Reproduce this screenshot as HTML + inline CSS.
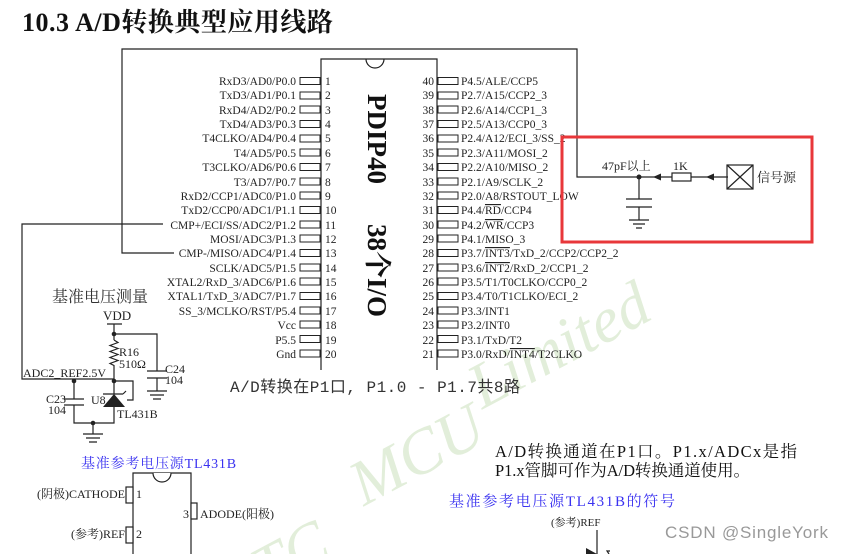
<!DOCTYPE html>
<html><head><meta charset="utf-8"><style>
html,body{margin:0;padding:0;background:#fff;overflow:hidden;width:843px;height:554px;}
svg{display:block;font-family:"Liberation Serif","Noto Serif CJK SC",serif;}
</style></head><body>
<svg width="843" height="554" viewBox="0 0 843 554" xmlns="http://www.w3.org/2000/svg">
<!-- watermark -->
<g fill="#e2eeda" font-style="italic" font-size="64" transform="rotate(-28 420 420)">
<text x="170" y="500">STC</text><text x="330" y="470">MCU</text><text x="480" y="440">Limited</text>
</g>
<text x="22" y="31" font-size="26" font-weight="bold" fill="#111" letter-spacing="0.5">10.3  A/D转换典型应用线路</text>
<g stroke="#222" stroke-width="1.2" fill="none">
<polyline points="174,253 122,253 122,49 577,49 577,177 728,177"/>
<polyline points="163,224 22,224 22,379 114,379"/>
<path d="M321,370 V59 H437 V370"/>
<path d="M366,59 A9,9 0 0 0 384,59"/>
</g>
<g font-size="11.5" fill="#222" text-anchor="end">
<text x="296" y="85">RxD3/AD0/P0.0</text>
<text x="296" y="99">TxD3/AD1/P0.1</text>
<text x="296" y="114">RxD4/AD2/P0.2</text>
<text x="296" y="128">TxD4/AD3/P0.3</text>
<text x="296" y="142">T4CLKO/AD4/P0.4</text>
<text x="296" y="157">T4/AD5/P0.5</text>
<text x="296" y="171">T3CLKO/AD6/P0.6</text>
<text x="296" y="186">T3/AD7/P0.7</text>
<text x="296" y="200">RxD2/CCP1/ADC0/P1.0</text>
<text x="296" y="214">TxD2/CCP0/ADC1/P1.1</text>
<text x="296" y="229">CMP+/ECI/SS/ADC2/P1.2</text>
<text x="296" y="243">MOSI/ADC3/P1.3</text>
<text x="296" y="257">CMP-/MISO/ADC4/P1.4</text>
<text x="296" y="272">SCLK/ADC5/P1.5</text>
<text x="296" y="286">XTAL2/RxD_3/ADC6/P1.6</text>
<text x="296" y="300">XTAL1/TxD_3/ADC7/P1.7</text>
<text x="296" y="315">SS_3/MCLKO/RST/P5.4</text>
<text x="296" y="329">Vcc</text>
<text x="296" y="344">P5.5</text>
<text x="296" y="358">Gnd</text>
</g>
<g font-size="11.5" fill="#222">
<text x="325" y="85">1</text><text x="325" y="99">2</text><text x="325" y="114">3</text><text x="325" y="128">4</text><text x="325" y="142">5</text><text x="325" y="157">6</text><text x="325" y="171">7</text><text x="325" y="186">8</text><text x="325" y="200">9</text><text x="325" y="214">10</text><text x="325" y="229">11</text><text x="325" y="243">12</text><text x="325" y="257">13</text><text x="325" y="272">14</text><text x="325" y="286">15</text><text x="325" y="300">16</text><text x="325" y="315">17</text><text x="325" y="329">18</text><text x="325" y="344">19</text><text x="325" y="358">20</text>
<g text-anchor="end">
<text x="434" y="85">40</text><text x="434" y="99">39</text><text x="434" y="114">38</text><text x="434" y="128">37</text><text x="434" y="142">36</text><text x="434" y="157">35</text><text x="434" y="171">34</text><text x="434" y="186">33</text><text x="434" y="200">32</text><text x="434" y="214">31</text><text x="434" y="229">30</text><text x="434" y="243">29</text><text x="434" y="257">28</text><text x="434" y="272">27</text><text x="434" y="286">26</text><text x="434" y="300">25</text><text x="434" y="315">24</text><text x="434" y="329">23</text><text x="434" y="344">22</text><text x="434" y="358">21</text>
</g>
<text x="461" y="85">P4.5/ALE/CCP5</text>
<text x="461" y="99">P2.7/A15/CCP2_3</text>
<text x="461" y="114">P2.6/A14/CCP1_3</text>
<text x="461" y="128">P2.5/A13/CCP0_3</text>
<text x="461" y="142">P2.4/A12/ECI_3/SS_2</text>
<text x="461" y="157">P2.3/A11/MOSI_2</text>
<text x="461" y="171">P2.2/A10/MISO_2</text>
<text x="461" y="186">P2.1/A9/SCLK_2</text>
<text x="461" y="200">P2.0/A8/RSTOUT_LOW</text>
<text x="461" y="214">P4.4/<tspan text-decoration="overline">RD</tspan>/CCP4</text>
<text x="461" y="229">P4.2/<tspan text-decoration="overline">WR</tspan>/CCP3</text>
<text x="461" y="243">P4.1/MISO_3</text>
<text x="461" y="257">P3.7/<tspan text-decoration="overline">INT3</tspan>/TxD_2/CCP2/CCP2_2</text>
<text x="461" y="272">P3.6/<tspan text-decoration="overline">INT2</tspan>/RxD_2/CCP1_2</text>
<text x="461" y="286">P3.5/T1/T0CLKO/CCP0_2</text>
<text x="461" y="300">P3.4/T0/T1CLKO/ECI_2</text>
<text x="461" y="315">P3.3/INT1</text>
<text x="461" y="329">P3.2/INT0</text>
<text x="461" y="344">P3.1/TxD/T2</text>
<text x="461" y="358">P3.0/RxD/<tspan text-decoration="overline">INT4</tspan>/T2CLKO</text>
</g>
<g stroke="#222" stroke-width="1" fill="#fff">
<rect x="300" y="77.5" width="20" height="7"/><rect x="300" y="92" width="20" height="7"/><rect x="300" y="106" width="20" height="7"/><rect x="300" y="120.5" width="20" height="7"/><rect x="300" y="135" width="20" height="7"/><rect x="300" y="149" width="20" height="7"/><rect x="300" y="163.5" width="20" height="7"/><rect x="300" y="178" width="20" height="7"/><rect x="300" y="192" width="20" height="7"/><rect x="300" y="206.5" width="20" height="7"/><rect x="300" y="221" width="20" height="7"/><rect x="300" y="235" width="20" height="7"/><rect x="300" y="249.5" width="20" height="7"/><rect x="300" y="264" width="20" height="7"/><rect x="300" y="278" width="20" height="7"/><rect x="300" y="292.5" width="20" height="7"/><rect x="300" y="307" width="20" height="7"/><rect x="300" y="321" width="20" height="7"/><rect x="300" y="335.5" width="20" height="7"/><rect x="300" y="350" width="20" height="7"/>
<rect x="438" y="77.5" width="20" height="7"/><rect x="438" y="92" width="20" height="7"/><rect x="438" y="106" width="20" height="7"/><rect x="438" y="120.5" width="20" height="7"/><rect x="438" y="135" width="20" height="7"/><rect x="438" y="149" width="20" height="7"/><rect x="438" y="163.5" width="20" height="7"/><rect x="438" y="178" width="20" height="7"/><rect x="438" y="192" width="20" height="7"/><rect x="438" y="206.5" width="20" height="7"/><rect x="438" y="221" width="20" height="7"/><rect x="438" y="235" width="20" height="7"/><rect x="438" y="249.5" width="20" height="7"/><rect x="438" y="264" width="20" height="7"/><rect x="438" y="278" width="20" height="7"/><rect x="438" y="292.5" width="20" height="7"/><rect x="438" y="307" width="20" height="7"/><rect x="438" y="321" width="20" height="7"/><rect x="438" y="335.5" width="20" height="7"/><rect x="438" y="350" width="20" height="7"/>
</g>
<text transform="translate(368,94) rotate(90)" font-size="27" font-weight="bold" fill="#111">PDIP40</text>
<text transform="translate(368,224) rotate(90)" font-size="27" font-weight="bold" fill="#111">38个I/O</text>
<rect x="562" y="137" width="250" height="105" fill="none" stroke="#e8373a" stroke-width="3"/>
<g stroke="#222" stroke-width="1.2" fill="none">
<rect x="672" y="173" width="19" height="8" fill="#fff"/>
<rect x="727" y="165" width="26" height="24"/>
<path d="M727,165 L753,189 M753,165 L727,189"/>
<path d="M639,177 V199 M626,199 H652 M626,207 H652 M639,207 V220 M629,220 H649 M633,224 H645 M636,228 H642"/>
</g>
<circle cx="639" cy="177" r="2.5" fill="#222"/>
<path d="M653,177 L661,173.5 L661,180.5 Z M706,177 L714,173.5 L714,180.5 Z" fill="#222"/>
<text x="602" y="170" font-size="12" fill="#222">47pF以上</text>
<text x="673" y="170" font-size="12" fill="#222">1K</text>
<text x="757" y="182" font-size="13" fill="#222">信号源</text>
<text x="52" y="302" font-size="16" fill="#333">基准电压测量</text>
<text x="103" y="320" font-size="13" fill="#222">VDD</text>
<g stroke="#222" stroke-width="1.2" fill="none">
<path d="M107,324 H122 M114,324 V340"/>
<path d="M114,334 H157 V371 M147,371 H167 M147,378 H167 M157,378 V391 M147,391 H167 M150,395 H164 M153,399 H161"/>
<path d="M114,340 l4,2.5 -8,3 8,3 -8,3 8,3 -8,3 8,3 -8,3 4,2 V394"/>
<path d="M114,381 H133 V400 H127"/>
<path d="M74,381 V399 M64,399 H84 M64,405 H84 M74,405 V423 H114 V407"/>
<path d="M93,423 V434 M83,434 H103 M86,438 H100 M89,442 H97"/>
<path d="M103,394 H123 M123,394 l3,-3"/>
</g>
<path d="M114,394 L103,407 L125,407 Z" fill="#222"/>
<circle cx="114" cy="334" r="2.3" fill="#222"/><circle cx="114" cy="381" r="2.3" fill="#222"/><circle cx="74" cy="381" r="2.3" fill="#222"/><circle cx="93" cy="423" r="2.3" fill="#222"/>
<g font-size="12" fill="#222">
<text x="119" y="356">R16</text><text x="119" y="368">510Ω</text>
<text x="165" y="373">C24</text><text x="165" y="384">104</text>
<text x="23" y="377">ADC2_REF2.5V</text>
<text x="46" y="403">C23</text><text x="48" y="414">104</text>
<text x="91" y="404">U8</text><text x="117" y="418">TL431B</text>
</g>
<text x="230" y="392" font-size="16" fill="#333" font-family="'Liberation Mono','Noto Sans CJK SC',monospace" textLength="290">A/D转换在P1口, P1.0 - P1.7共8路</text>
<text x="81" y="468" font-size="14" fill="#3a32f0" letter-spacing="0.8">基准参考电压源TL431B</text>
<g stroke="#222" stroke-width="1.2" fill="#fff">
<path d="M133,556 V473 H191 V556"/>
<path d="M153,473 A9,9 0 0 0 171,473"/>
<rect x="126" y="487" width="7" height="16"/><rect x="126" y="527" width="7" height="16"/><rect x="191" y="503" width="6" height="16"/>
</g>
<g font-size="12" fill="#222">
<text x="125" y="498" text-anchor="end">(阴极)CATHODE</text>
<text x="125" y="538" text-anchor="end">(参考)REF</text>
<text x="136" y="498">1</text><text x="136" y="538">2</text><text x="183" y="518">3</text>
<text x="200" y="518">ADODE(阳极)</text>
</g>
<text x="495" y="457" font-size="16.5" fill="#111" textLength="302">A/D转换通道在P1口。P1.x/ADCx是指</text>
<text x="495" y="476" font-size="16.5" fill="#111" textLength="255">P1.x管脚可作为A/D转换通道使用。</text>
<text x="449" y="506" font-size="15" fill="#3a32f0" textLength="226">基准参考电压源TL431B的符号</text>
<text x="551" y="526" font-size="11" fill="#222">(参考)REF</text>
<path d="M597,530 V554 M609,554 l-2,-3 h3" stroke="#222" stroke-width="1.2" fill="none"/>
<path d="M586,548 L597,554 L586,554 Z" fill="#222"/>
<text x="665" y="538" font-size="17" fill="#999" font-family="'Liberation Sans',sans-serif" textLength="163">CSDN @SingleYork</text>
</svg>
</body></html>
